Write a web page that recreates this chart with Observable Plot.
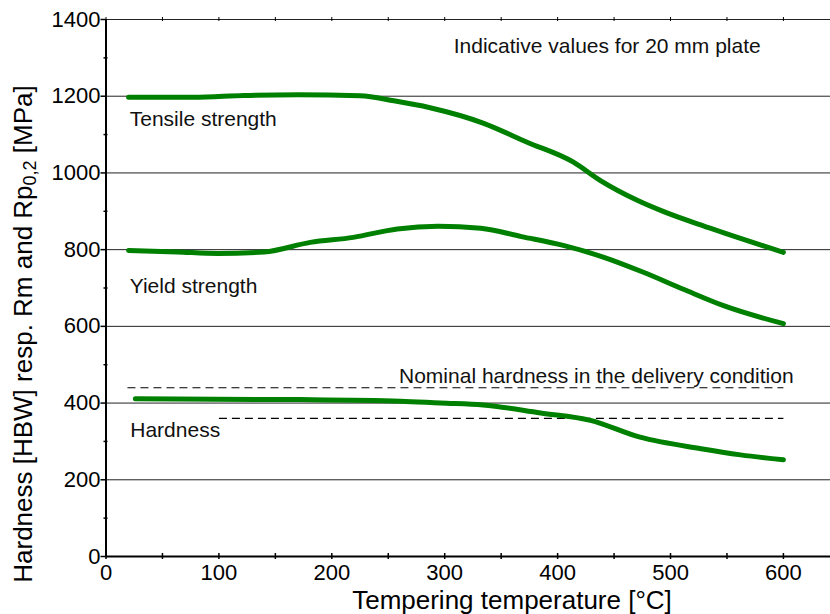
<!DOCTYPE html>
<html>
<head>
<meta charset="utf-8">
<script src="https://cdn.jsdelivr.net/npm/d3@7"></script>
<script src="https://cdn.jsdelivr.net/npm/@observablehq/plot@0.6"></script>
<style>
  html, body { margin: 0; padding: 0; background: #ffffff; }
  #chart svg { display: block; }
</style>
</head>
<body>
<div id="chart"></div>
<script>
// ---- Data ----
const tensileTemp  = [20, 78, 122, 170, 225, 255, 287, 334, 373, 414, 438, 471, 494, 533, 600];
const tensileValue = [1197, 1197, 1202, 1204, 1201, 1188, 1170, 1130, 1080, 1028, 980, 928, 899, 858, 793];

const yieldTemp  = [20, 63, 99, 140, 181, 219, 258, 294, 332, 368, 405, 441, 476, 512, 547, 600];
const yieldValue = [798, 794, 790, 794, 819, 832, 854, 861, 856, 834, 811, 780, 741, 696, 654, 607];

const hardTemp  = [26, 172, 261, 296, 334, 385, 429, 473, 527, 562, 600];
const hardValue = [411, 409, 405, 400, 395, 374, 355, 311, 281, 265, 252];

// nominal hardness band in the delivery condition (dashed)
const nominalUpper = {from: 19, to: 600, value: 440};
const nominalLower = {from: 100, to: 600, value: 360};

// ticks
const xTickLabels = [0, 100, 200, 300, 400, 500, 600];
const xTickMarks  = [0, 50, 100, 150, 200, 250, 300, 350, 400, 450, 500, 550, 600];
const yTickLabels = [0, 200, 400, 600, 800, 1000, 1200, 1400];
const yMinorTicks = [100, 300, 500, 700, 900, 1100, 1300];
const gridValues  = [200, 400, 600, 800, 1000, 1200, 1400];

// annotations (left-aligned and right-aligned)
const leftNotes = [
  {x: 21, y: 1140, text: "Tensile strength"},
  {x: 21, y: 705,  text: "Yield strength"},
  {x: 21.5, y: 328, text: "Hardness"},
  {x: 308, y: 1330, text: "Indicative values for 20 mm plate"}
];
const rightNotes = [
  {x: 609, y: 469, text: "Nominal hardness in the delivery condition"}
];

const xTitle = "Tempering temperature [°C]";

// ---- Build tables ----
const toRows = (xs, ys) => xs.map((x, i) => ({x, y: ys[i]}));
const tensile = toRows(tensileTemp, tensileValue);
const yieldS  = toRows(yieldTemp, yieldValue);
const hard    = toRows(hardTemp, hardValue);
const dashed  = [nominalUpper, nominalLower];

const W = 830, H = 614;
const green = "#008000";
const font = "'Liberation Sans', Arial, Helvetica, sans-serif";
const fmt = d => String(d);

const chart = Plot.plot({
  width: W,
  height: H,
  marginLeft: 105.5,
  marginRight: 0,
  marginTop: 19,
  marginBottom: 58,
  style: {fontFamily: font, fontSize: "22px", color: "#000", background: "#fff"},
  x: {domain: [0, 641.7], ticks: xTickLabels, tickFormat: fmt},
  y: {domain: [0, 1400], ticks: yTickLabels, tickFormat: fmt},
  marks: [
    // horizontal gridlines
    Plot.ruleY(gridValues, {stroke: "#222", strokeWidth: 1}),
    // nominal hardness dashed lines
    Plot.link(dashed, {x1: "from", x2: "to", y1: "value", y2: "value", stroke: "#000", strokeWidth: 1.2, strokeDasharray: "8,5"}),
    // curves
    Plot.line(tensile, {x: "x", y: "y", stroke: green, strokeWidth: 5, curve: "monotone-x"}),
    Plot.line(yieldS,  {x: "x", y: "y", stroke: green, strokeWidth: 5, curve: "monotone-x"}),
    Plot.line(hard,    {x: "x", y: "y", stroke: green, strokeWidth: 5, curve: "monotone-x"}),
    // axis lines
    Plot.ruleX([0], {stroke: "#000", strokeWidth: 2}),
    Plot.ruleY([0], {stroke: "#000", strokeWidth: 2}),
    // bottom tick marks (crossing axis)
    Plot.ruleX(xTickMarks, {y1: 0, y2: 0, insetTop: -3, insetBottom: -3, stroke: "#000", strokeWidth: 1.5}),
    // top tick marks on 1400 line
    Plot.ruleX(xTickMarks, {y1: 1400, y2: 1400, insetTop: -2, insetBottom: -2, stroke: "#000", strokeWidth: 1}),
    // left minor ticks
    Plot.ruleY(yMinorTicks, {x1: 0, x2: 0, insetLeft: -2, insetRight: -2, stroke: "#000", strokeWidth: 1.5}),
    // axes
    Plot.axisY(yTickLabels, {tickSize: 5, tickPadding: 0.5, label: null, fontSize: 22, strokeWidth: 1.5, tickFormat: fmt}),
    Plot.axisX(xTickLabels, {tickSize: 0, tickPadding: 8, label: null, fontSize: 22, tickFormat: fmt}),
    // annotations
    Plot.text(leftNotes, {x: "x", y: "y", text: "text", textAnchor: "start", fontSize: 21, fill: "#111", lineAnchor: "middle"}),
    Plot.text(rightNotes, {x: "x", y: "y", text: "text", textAnchor: "end", fontSize: 21, fill: "#111", lineAnchor: "middle"})
  ]
});

document.getElementById("chart").appendChild(chart);

// Axis titles (real SVG text)
const svg = d3.select(chart);
svg.append("text")
  .attr("x", 512).attr("y", 608.5)
  .attr("text-anchor", "middle")
  .attr("font-family", font)
  .attr("font-size", 26)
  .attr("fill", "#000")
  .text(xTitle);

const yt = svg.append("text")
  .attr("transform", "translate(32,334) rotate(-90)")
  .attr("text-anchor", "middle")
  .attr("font-family", font)
  .attr("font-size", 26)
  .attr("fill", "#000");
yt.append("tspan").text("Hardness [HBW] resp. Rm and Rp");
yt.append("tspan").attr("font-size", 18).attr("dy", 4).text("0,2");
yt.append("tspan").attr("dy", -4).text(" [MPa]");
</script>
</body>
</html>
